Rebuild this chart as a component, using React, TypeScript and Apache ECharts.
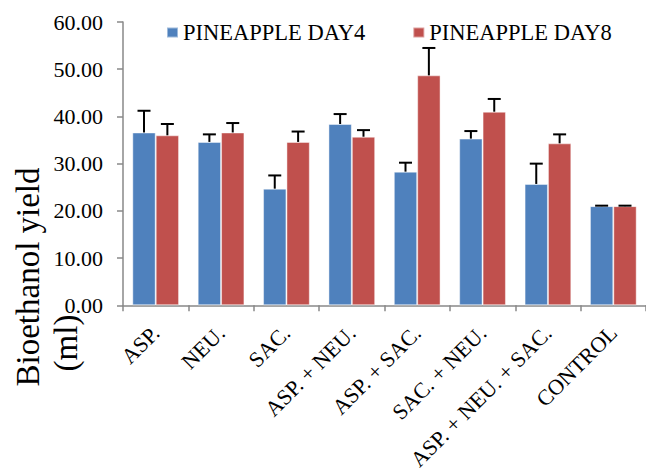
import React, { useEffect, useRef } from "react";
import * as echarts from "echarts";

const categories = [
  "ASP.",
  "NEU.",
  "SAC.",
  "ASP. + NEU.",
  "ASP. + SAC.",
  "SAC. + NEU.",
  "ASP. + NEU. + SAC.",
  "CONTROL",
];
const seriesNames = ["PINEAPPLE DAY4", "PINEAPPLE DAY8"];
const day4 = [36.6, 34.6, 24.7, 38.4, 28.3, 35.3, 25.7, 21.0];
const day4ErrTop = [41.2, 36.2, 27.5, 40.5, 30.2, 36.9, 30.0, 21.1];
const day8 = [36.0, 36.6, 34.6, 35.7, 48.7, 41.0, 34.3, 21.0];
const day8ErrTop = [38.4, 38.6, 36.8, 37.1, 54.5, 43.7, 36.2, 21.1];
const yTicks = { min: 0, max: 60, interval: 10 };

const FONT = "'Times New Roman', 'Liberation Serif', serif";
const BLUE = "#4F81BD";
const RED = "#C0504D";
const AXIS = "#888888";

function errorSeries(name: string, vals: number[], tops: number[], offset: number) {
  return {
    type: "custom",
    name: name + " err",
    z: 10,
    data: vals.map((v, i) => [i, v, tops[i]]),
    renderItem: (params: any, api: any) => {
      const i = api.value(0);
      const v = api.value(1);
      const e = api.value(2);
      const base = api.coord([i, v]);
      const top = api.coord([i, e]);
      const band = api.size([1, 0])[0];
      const cx = base[0] + offset * band;
      return {
        type: "group",
        children: [
          {
            type: "line",
            shape: { x1: cx, y1: base[1], x2: cx, y2: top[1] },
            style: { stroke: "#000", lineWidth: 2 },
          },
          {
            type: "line",
            shape: { x1: cx - 6.5, y1: top[1], x2: cx + 6.5, y2: top[1] },
            style: { stroke: "#000", lineWidth: 2 },
          },
        ],
      };
    },
  };
}

export default function App() {
  const ref = useRef<HTMLDivElement>(null);
  useEffect(() => {
    document.body.style.margin = "0";
    const chart = echarts.init(ref.current!, null, { renderer: "svg" });
    chart.setOption({
      animation: false,
      backgroundColor: "#fff",
      textStyle: { fontFamily: FONT },
      grid: { left: 123, top: 22, width: 531, height: 287, containLabel: false },
      legend: {
        data: seriesNames,
        left: 166,
        top: 21,
        padding: 0,
        itemGap: 47,
        itemWidth: 11,
        itemHeight: 10,
        icon: "rect",
        textStyle: { fontFamily: FONT, fontSize: 22.5, color: "#000" },
      },
      xAxis: {
        type: "category",
        data: categories,
        axisLine: { lineStyle: { color: AXIS, width: 1.5 } },
        axisTick: { show: true, length: 6, lineStyle: { color: AXIS, width: 1.5 } },
        axisLabel: {
          rotate: 45,
          margin: 24,
          interval: 0,
          fontFamily: FONT,
          fontSize: 22,
          color: "#000",
        },
      },
      yAxis: {
        type: "value",
        min: yTicks.min,
        max: yTicks.max,
        interval: yTicks.interval,
        splitLine: { show: false },
        axisLine: { show: true, lineStyle: { color: AXIS, width: 1.5 } },
        axisTick: { show: true, length: 6, lineStyle: { color: AXIS, width: 1.5 } },
        axisLabel: {
          margin: 20,
          fontFamily: FONT,
          fontSize: 22,
          color: "#000",
          formatter: (v: number) => v.toFixed(2),
        },
      },
      graphic: [
        {
          type: "text",
          x: 28,
          y: 277,
          rotation: Math.PI / 2,
          style: {
            text: "Bioethanol yield",
            fontFamily: FONT,
            fontSize: 33,
            fill: "#000",
            align: "center",
            verticalAlign: "middle",
          },
        },
        {
          type: "text",
          x: 66,
          y: 343,
          rotation: Math.PI / 2,
          style: {
            text: "(ml)",
            fontFamily: FONT,
            fontSize: 33,
            fill: "#000",
            align: "center",
            verticalAlign: "middle",
          },
        },
      ],
      series: [
        {
          type: "bar",
          name: seriesNames[0],
          data: day4,
          barGap: "0%",
          barCategoryGap: "28.5%",
          itemStyle: { color: BLUE, borderColor: "rgba(255,255,255,0.45)", borderWidth: 1 },
        },
        {
          type: "bar",
          name: seriesNames[1],
          data: day8,
          barGap: "0%",
          barCategoryGap: "28.5%",
          itemStyle: { color: RED, borderColor: "rgba(255,255,255,0.45)", borderWidth: 1 },
        },
        errorSeries(seriesNames[0], day4, day4ErrTop, -0.1787),
        errorSeries(seriesNames[1], day8, day8ErrTop, 0.1787),
      ],
    });
    return () => chart.dispose();
  }, []);
  return <div ref={ref} style={{ width: 646, height: 473 }} />;
}
